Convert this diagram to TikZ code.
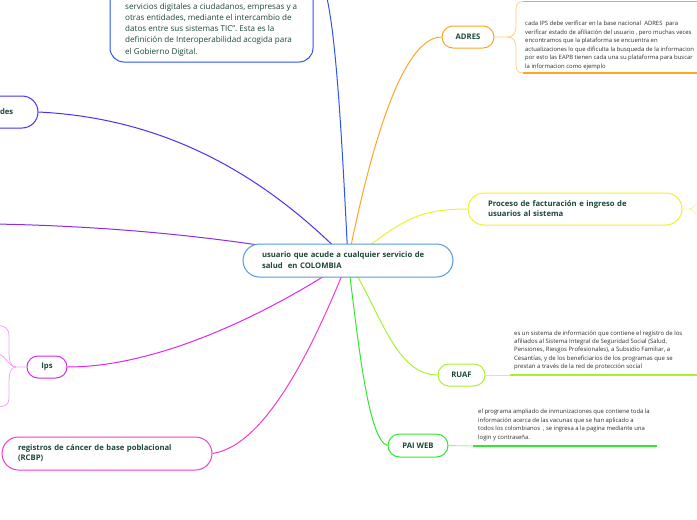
\documentclass[tikz,border=0pt]{standalone}
\usepackage{fontspec}
\setmainfont{Open Sans}
\usetikzlibrary{backgrounds}
\definecolor{txt}{RGB}{28,72,56}
\definecolor{dtxt}{RGB}{45,45,45}
\definecolor{cblue}{RGB}{45,85,230}
\definecolor{cviolet}{RGB}{70,50,240}
\definecolor{cpurple}{RGB}{140,45,230}
\definecolor{chub}{RGB}{85,155,215}
\definecolor{corange}{RGB}{255,165,35}
\definecolor{corangel}{RGB}{255,205,140}
\definecolor{cyellow}{RGB}{240,240,40}
\definecolor{cyellowl}{RGB}{245,245,160}
\definecolor{clime}{RGB}{170,240,50}
\definecolor{climel}{RGB}{200,245,140}
\definecolor{cgreen}{RGB}{50,230,50}
\definecolor{cgreenl}{RGB}{150,240,150}
\definecolor{cpink}{RGB}{240,60,200}
\definecolor{cmag}{RGB}{220,40,235}
\definecolor{cmagl}{RGB}{240,165,245}
\tikzset{
  topic/.style={draw, fill=white, line width=1pt, rounded corners=#1, inner sep=0pt, text=txt,
    font=\fontsize{7.7}{11}\bfseries\selectfont},
  boxframe/.style={draw, fill=white, line width=1pt, rounded corners=#1, inner sep=0pt},
  desctext/.style={anchor=west, align=left, inner sep=0pt, text=dtxt},
  conn/.style={line width=1pt},
  brack/.style={line width=0.8pt},
  thickline/.style={line width=1.6pt}
}
\begin{document}
\begin{tikzpicture}[x=1pt,y=-1pt]
\useasboundingbox (0,0) rectangle (697,520);
\clip (0,0) rectangle (697,520);

% central topic
\node[topic=16.5pt, draw=chub, minimum width=210pt, minimum height=33pt, text width=172pt, align=left] (hub) at (348,260.5)
  {\mbox{usuario que acude a cualquier servicio de}\\\mbox{salud\ \ en COLOMBIA}};

% interoperability box (top cut off)
\node[boxframe=14pt, draw=cblue, minimum width=203pt, minimum height=182pt] (interop) at (211.5,-29) {};
\node[desctext, text=txt, font=\fontsize{8.1}{11.25}\selectfont] (interoptext) at (125,29.5)
  {servicios digitales a ciudadanos, empresas y a\\
   otras entidades, mediante el intercambio de\\
   datos entre sus sistemas TIC”. Esta es la\\
   definición de Interoperabilidad acogida para\\
   el Gobierno Digital.};

% left node (cut off)
\node[boxframe=16pt, draw=cviolet, minimum width=100pt, minimum height=32pt] (des) at (-12,112) {};
\node[anchor=east, inner sep=0pt, text=txt, font=\fontsize{7.7}{11}\bfseries\selectfont] (destext) at (13.5,112) {des};

% ADRES
\node[topic=11pt, draw=corange, minimum width=52pt, minimum height=22pt] (adres) at (468,37) {ADRES};
\node[desctext, font=\fontsize{5.9}{8.6}\selectfont] (adrestext) at (525,45.5)
  {cada IPS debe verificar en la base nacional\ \ ADRES\ \ para\\
   verificar estado de afiliación del usuario , pero muchas veces\\
   encontramos que la plataforma se encuentra en\\
   actualizaciones lo que dificulta la busqueda de la informacion\\
   por esto las EAPB tienen cada una su plataforma para buscar\\
   la informacion como ejemplo};
\coordinate (adresfork) at (507,37);
\coordinate (adrestopl) at (523,1.5);
\coordinate (adrestopr) at (700,1.5);
\coordinate (adresbotl) at (523,73);
\coordinate (adresbotr) at (700,73);
\draw[corange, thickline] (adrestopl) -- (adrestopr);
\draw[corange, thickline] (adresbotl) -- (adresbotr);
\draw[corangel, brack] (adres.east) -- (adresfork) .. controls (514,37) and (516,33) .. (516,24) -- (516,10) .. controls (516,4) and (518,1.5) .. (adrestopl);
\draw[corangel, brack] (adresfork) .. controls (514,37) and (516,41) .. (516,50) -- (516,64) .. controls (516,70) and (518,73) .. (adresbotl);

% Proceso
\node[topic=16pt, draw=cyellow, minimum width=214pt, minimum height=32pt, text width=174pt, align=left,
  font=\fontsize{7.7}{10}\bfseries\selectfont] (proceso) at (575,209)
  {\mbox{Proceso de facturación e ingreso de}\\\mbox{usuarios al sistema}};
\coordinate (procfork) at (689,209);
\coordinate (procup) at (700,203);
\coordinate (procdown) at (700,215);
\draw[cyellowl, brack] (proceso.east) -- (procfork) .. controls (693,209) and (694,204) .. (procup);
\draw[cyellowl, brack] (procfork) .. controls (693,209) and (694,214) .. (procdown);

% RUAF
\node[topic=11pt, draw=clime, minimum width=47pt, minimum height=22pt] (ruaf) at (461.5,375) {RUAF};
\node[desctext, font=\fontsize{6.0}{8.2}\selectfont] (ruaftext) at (514,350.3)
  {es un sistema de información que contiene el registro de los\\
   afiliados al Sistema Integral de Seguridad Social (Salud,\\
   Pensiones, Riesgos Profesionales), a Subsidio Familiar, a\\
   Cesantías, y de los beneficiarios de los programas que se\\
   prestan a través de la red de protección social};
\coordinate (ruafl) at (510,375);
\coordinate (ruafr) at (700,375);
\draw[climel, brack] (ruaf.east) -- (ruafl);
\draw[clime, thickline] (ruafl) -- (ruafr);

% PAI WEB
\node[topic=11.5pt, draw=cgreen, minimum width=60pt, minimum height=23pt] (pai) at (418,445.5) {PAI WEB};
\node[desctext, font=\fontsize{5.9}{8.6}\selectfont] (paitext) at (478,425)
  {el programa ampliado de inmunizaciones que contiene toda la\\
   información acerca de las vacunas que se han aplicado a\\
   todos los colombianos\ \ , se ingresa a la pagina mediante una\\
   login y contraseña.};
\coordinate (paileft) at (473,446);
\coordinate (pairight) at (657,446);
\draw[cgreenl, brack] (pai.east) -- (paileft);
\draw[draw=cgreen, thickline] (paileft) -- (pairight);

% Ips
\node[topic=11pt, draw=cmag, minimum width=40pt, minimum height=22pt] (ips) at (47,367) {Ips};
\coordinate (ipsfork) at (16,367);
\coordinate (ipsa) at (-4,325.5);
\coordinate (ipsb) at (-4,353.5);
\coordinate (ipsc) at (-4,407);
\draw[cmagl, brack] (ips.west) -- (ipsfork) .. controls (10,367) and (9,360) .. (9,350) -- (9,336) .. controls (9,329) and (6,325.5) .. (ipsa);
\draw[cmagl, brack] (ipsfork) .. controls (8,367) and (6,354) .. (ipsb);
\draw[cmagl, brack] (ipsfork) .. controls (10,367) and (9,374) .. (9,384) -- (9,398) .. controls (9,404) and (6,407) .. (ipsc);

% registros
\node[topic=16.5pt, draw=cpink, minimum width=210pt, minimum height=33pt, text width=178pt, align=left,
  font=\fontsize{7.7}{10}\bfseries\selectfont] (reg) at (107,453.5)
  {\mbox{registros de cáncer de base poblacional}\\\mbox{(RCBP)}};

\coordinate (leftend) at (-5,224);

% connectors
\begin{pgfonlayer}{background}
\draw[cblue, conn] (hub.center) .. controls (340,100) and (333,-29) .. (interop.east);
\draw[cviolet, conn] (hub.center) .. controls (260,170) and (160,118) .. (des.east);
\draw[cpurple, conn] (hub.center) .. controls (220,235) and (100,226) .. (leftend);
\draw[corange, conn] (hub.center) .. controls (368,160) and (400,37) .. (adres.west);
\draw[cyellow, conn] (hub.center) .. controls (400,225) and (410,209) .. (proceso.west);
\draw[clime, conn] (hub.center) .. controls (380,310) and (395,375) .. (ruaf.west);
\draw[cgreen, conn] (hub.center) .. controls (358,340) and (368,440) .. (pai.west);
\draw[cmag, conn] (hub.center) .. controls (290,300) and (170,367) .. (ips.east);
\draw[cpink, conn] (hub.center) .. controls (320,330) and (270,445) .. (reg.east);
\end{pgfonlayer}
\end{tikzpicture}
\end{document}
